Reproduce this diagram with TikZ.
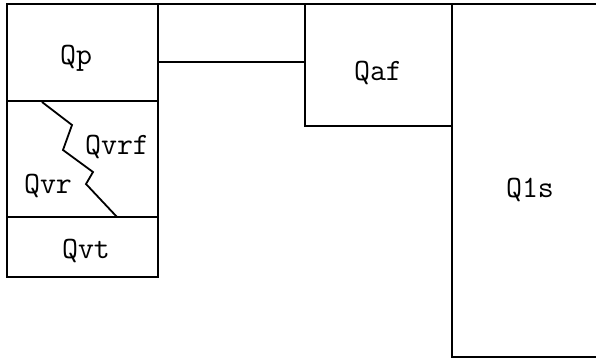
\documentclass[tikz,border=0pt]{standalone}
\usepackage{fontspec}
\begin{document}
\begin{tikzpicture}[x=1pt,y=-1pt,
  edge/.style={line width=1.8pt,line cap=rect,line join=miter},
  lbl/.style={font=\ttfamily\fontsize{31}{31}\selectfont,inner sep=0pt}]
\useasboundingbox (0,0) rectangle (596,361);
% left column
\draw[edge] (7,4) rectangle (158,277);
\draw[edge] (7,101) -- (158,101);
\draw[edge] (7,217) -- (158,217);
% jagged contact
\draw[edge,line cap=butt] (42,102) -- (72,125) -- (63,150) -- (93,172) -- (86,184) -- (117,217);
% top line and right part
\draw[edge] (158,4) -- (596,4);
\draw[edge] (158,62) -- (305,62);
\draw[edge] (305,4) -- (305,126) -- (452,126);
\draw[edge] (452,4) -- (452,357) -- (596,357);
% labels
\node[lbl] (qp) at (76,58) {Qp};
\node[lbl] (qvrf) at (117,147) {Qvrf};
\node[lbl] (qvr) at (48,186) {Qvr};
\node[lbl] (qvt) at (86,251) {Qvt};
\node[lbl] (qaf) at (378,73) {Qaf};
\node[lbl] (qls) at (530,190) {Q1s};
\end{tikzpicture}
\end{document}
